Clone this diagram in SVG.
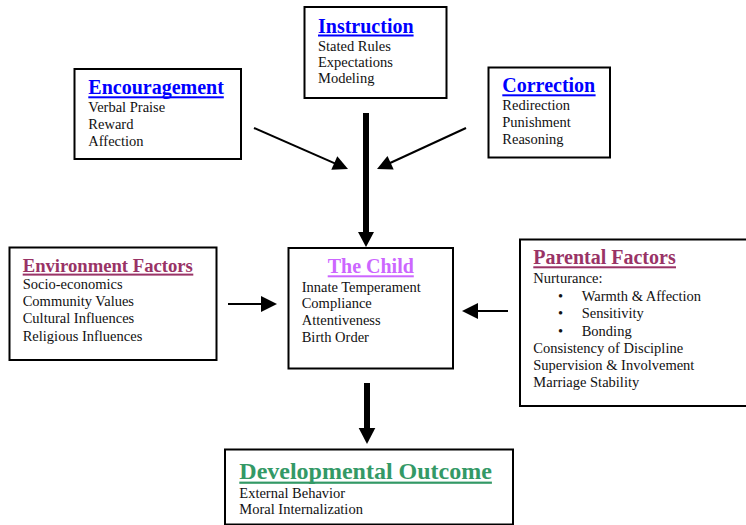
<svg xmlns="http://www.w3.org/2000/svg" width="746" height="525" viewBox="0 0 746 525">
<style>
.box{fill:#fff;stroke:#000;stroke-width:2}
.t{font-family:"Liberation Serif","Times New Roman",serif;font-weight:bold;font-size:20px}
.b{font-family:"Liberation Serif","Times New Roman",serif;font-size:14.5px;fill:#111}
.blue{fill:#0000ff}
.maroon{fill:#993366}
.violet{fill:#cc66ff}
.green{fill:#339966}
.ln{stroke:#000;stroke-width:2;fill:none}
.thick{stroke:#000;stroke-width:6;fill:none}
.ah{fill:#000}
</style>
<rect width="746" height="525" fill="#fff"/>
<g id="instruction">
<rect class="box" x="304.5" y="7" width="142" height="91"/>
<text class="t blue" x="318" y="32.5">Instruction</text>
<rect x="318" y="34.5" width="95.6" height="2" fill="#0000ff"/>
<text class="b" x="318" y="50.5">Stated Rules</text>
<text class="b" x="318" y="66.5">Expectations</text>
<text class="b" x="318" y="83">Modeling</text>
</g>
<g id="encouragement">
<rect class="box" x="74.5" y="69" width="166.5" height="90"/>
<text class="t blue" x="88.3" y="94.3">Encouragement</text>
<rect x="88.3" y="96.3" width="135.5" height="2" fill="#0000ff"/>
<text class="b" x="88.3" y="111.7">Verbal Praise</text>
<text class="b" x="88.3" y="129">Reward</text>
<text class="b" x="88.3" y="146">Affection</text>
</g>
<g id="correction">
<rect class="box" x="488.5" y="67.5" width="121.5" height="90"/>
<text class="t blue" x="502.3" y="92.3">Correction</text>
<rect x="502.3" y="94.3" width="93.3" height="2" fill="#0000ff"/>
<text class="b" x="502.3" y="110">Redirection</text>
<text class="b" x="502.3" y="127.3">Punishment</text>
<text class="b" x="502.3" y="144.3">Reasoning</text>
</g>
<g id="environment">
<rect class="box" x="9.5" y="247.5" width="207" height="112.5"/>
<text class="t maroon" x="22.7" y="271.7" style="font-size:18.67px">Environment Factors</text>
<rect x="22.7" y="273.6" width="170.6" height="2" fill="#993366"/>
<text class="b" x="22.7" y="289">Socio-economics</text>
<text class="b" x="22.7" y="306">Community Values</text>
<text class="b" x="22.7" y="322.7">Cultural Influences</text>
<text class="b" x="22.7" y="340.7">Religious Influences</text>
</g>
<g id="child">
<rect class="box" x="288.5" y="248" width="164.5" height="120.5"/>
<text class="t violet" x="327.7" y="273.3">The Child</text>
<rect x="327.7" y="275.3" width="86.1" height="2" fill="#cc66ff"/>
<text class="b" x="301.7" y="291.7">Innate Temperament</text>
<text class="b" x="301.7" y="308.3">Compliance</text>
<text class="b" x="301.7" y="325">Attentiveness</text>
<text class="b" x="301.7" y="341.7">Birth Order</text>
</g>
<g id="parental">
<rect class="box" x="520" y="239.5" width="228" height="166.5"/>
<text class="t maroon" x="533.3" y="264.3">Parental Factors</text>
<rect x="533.3" y="266.3" width="142.7" height="2" fill="#993366"/>
<text class="b" x="533.3" y="282.7">Nurturance:</text>
<text class="b" x="558" y="301">•</text>
<text class="b" x="581.7" y="301">Warmth &amp; Affection</text>
<text class="b" x="558" y="318.3">•</text>
<text class="b" x="581.7" y="318.3">Sensitivity</text>
<text class="b" x="558" y="336">•</text>
<text class="b" x="581.7" y="336">Bonding</text>
<text class="b" x="533.3" y="352.7">Consistency of Discipline</text>
<text class="b" x="533.3" y="370">Supervision &amp; Involvement</text>
<text class="b" x="533.3" y="387.3">Marriage Stability</text>
</g>
<g id="outcome">
<rect class="box" x="225" y="449.5" width="288" height="75"/>
<text class="t green" x="239.3" y="479.3" style="font-size:24px">Developmental Outcome</text>
<rect x="239.3" y="481.6" width="252.6" height="2.2" fill="#339966"/>
<text class="b" x="239.3" y="497.7">External Behavior</text>
<text class="b" x="239.3" y="514">Moral Internalization</text>
</g>
<g id="connectors">
<line class="ln" x1="254" y1="128" x2="336" y2="163.8"/>
<polygon class="ah" points="348,169 331.3,169.8 337.3,156.2"/>
<line class="ln" x1="466" y1="128" x2="389" y2="163.5"/>
<polygon class="ah" points="377,169 393.7,169.6 387.5,156"/>
<line class="thick" x1="366" y1="113" x2="366" y2="233"/>
<polygon class="ah" points="358,232 374,232 366,247"/>
<line class="thick" x1="367" y1="383" x2="367" y2="429"/>
<polygon class="ah" points="358.7,428 375.3,428 367,444"/>
<line class="ln" x1="228" y1="304" x2="262" y2="304"/>
<polygon class="ah" points="261,296 261,312 277,304"/>
<line class="ln" x1="508" y1="311" x2="477" y2="311"/>
<polygon class="ah" points="478,303 478,319 462,311"/>
</g>
</svg>
